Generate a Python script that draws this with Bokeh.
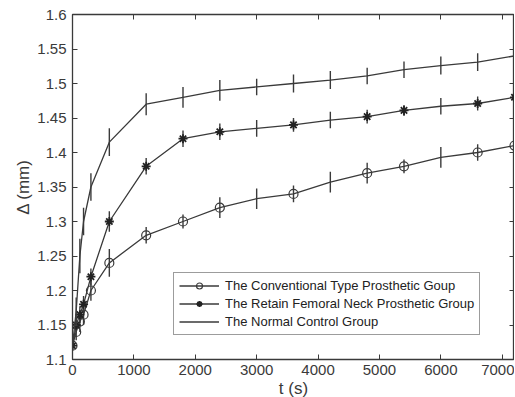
from bokeh.plotting import figure
from bokeh.models import (ColumnDataSource, Range1d, FixedTicker, LinearAxis,
                          CustomJSTickFormatter, Legend, LegendItem)
from bokeh.embed import file_html
from bokeh.resources import INLINE

# ---- data ----
t = [0, 60, 120, 180, 300, 600, 1200, 1800, 2400, 3000, 3600, 4200, 4800, 5400, 6000, 6600, 7200]
conventional = [1.12, 1.14, 1.155, 1.165, 1.20, 1.24, 1.28, 1.30, 1.32, 1.333, 1.34, 1.357, 1.37, 1.38, 1.393, 1.40, 1.41]
conventional_err = [0.005, 0.012, 0.015, 0.015, 0.015, 0.02, 0.012, 0.01, 0.015, 0.015, 0.012, 0.015, 0.015, 0.01, 0.015, 0.012, 0.01]
retain = [1.12, 1.15, 1.165, 1.18, 1.22, 1.30, 1.38, 1.42, 1.43, 1.435, 1.44, 1.447, 1.452, 1.461, 1.467, 1.471, 1.48]
retain_err = [0.005, 0.01, 0.012, 0.012, 0.012, 0.015, 0.012, 0.012, 0.012, 0.012, 0.01, 0.012, 0.01, 0.008, 0.012, 0.01, 0.01]
normal = [1.12, 1.17, 1.25, 1.30, 1.35, 1.415, 1.47, 1.48, 1.49, 1.495, 1.50, 1.505, 1.511, 1.52, 1.526, 1.531, 1.54]
normal_err = [0.005, 0.02, 0.025, 0.02, 0.02, 0.02, 0.016, 0.015, 0.015, 0.012, 0.013, 0.013, 0.012, 0.012, 0.013, 0.013, 0.012]
marker_shown = [1, 1, 1, 1, 1, 1, 1, 1, 1, 0, 1, 0, 1, 1, 0, 1, 1]
labels = ["The Conventional Type Prosthetic Goup",
          "The Retain Femoral Neck Prosthetic Group",
          "The Normal Control Group"]
y_ticks = [1.1, 1.15, 1.2, 1.25, 1.3, 1.35, 1.4, 1.45, 1.5, 1.55, 1.6]
x_ticks = [0, 1000, 2000, 3000, 4000, 5000, 6000, 7000]

FONT = "Liberation Sans"
INK = "#3a3a3a"

p = figure(frame_width=442, frame_height=345, output_backend="svg", toolbar_location=None,
           x_range=Range1d(0, 7200), y_range=Range1d(1.1, 1.6),
           min_border_left=72, min_border_right=0, min_border_top=14, min_border_bottom=10,
           x_axis_label="t (s)", y_axis_label="Δ (mm)")
p.background_fill_color = "white"
p.border_fill_color = "white"
p.grid.visible = False
p.outline_line_color = INK
p.outline_line_width = 1.3

for ax in (p.xaxis[0], p.yaxis[0]):
    ax.major_tick_in = 5
    ax.major_tick_out = 0
    ax.minor_tick_in = 0
    ax.minor_tick_out = 0
    ax.axis_line_color = INK
    ax.major_tick_line_color = INK
    ax.major_label_text_font = FONT
    ax.major_label_text_font_size = "15px"
    ax.major_label_text_color = INK
    ax.axis_label_text_font = FONT
    ax.axis_label_text_font_size = "17px"
    ax.axis_label_text_font_style = "normal"
    ax.axis_label_text_color = INK
p.xaxis[0].ticker = FixedTicker(ticks=x_ticks)
p.yaxis[0].ticker = FixedTicker(ticks=y_ticks)
p.yaxis[0].formatter = CustomJSTickFormatter(code="return String(Math.round(tick*100)/100);")
p.xaxis[0].major_label_standoff = 5
p.xaxis[0].axis_label_standoff = 1
p.yaxis[0].major_label_standoff = 6
p.yaxis[0].axis_label_standoff = 1

blank = CustomJSTickFormatter(code="return '';")
for loc in ("above", "right"):
    a = LinearAxis(ticker=FixedTicker(ticks=x_ticks if loc == "above" else y_ticks),
                   formatter=blank, major_tick_in=5, major_tick_out=0,
                   minor_tick_in=0, minor_tick_out=0, major_label_standoff=0,
                   major_label_text_font_size="1px",
                   axis_line_color=INK, major_tick_line_color=INK)
    p.add_layout(a, loc)

items = []
series = [(conventional, conventional_err, "circle"),
          (retain, retain_err, "asterisk"),
          (normal, normal_err, None)]
for (vals, errs, mk), lab in zip(series, labels):
    src = ColumnDataSource(dict(t=t, v=vals,
                                lo=[v - e for v, e in zip(vals, errs)],
                                hi=[v + e for v, e in zip(vals, errs)]))
    p.segment(x0="t", y0="lo", x1="t", y1="hi", source=src, line_color=INK, line_width=1.4)
    r_line = p.line("t", "v", source=src, line_color=INK, line_width=1.3)
    rs = [r_line]
    if mk is not None:
        msrc = ColumnDataSource(dict(
            t=[a for a, m in zip(t, marker_shown) if m],
            v=[b for b, m in zip(vals, marker_shown) if m]))
        if mk == "circle":
            r_m = p.scatter("t", "v", source=msrc, marker="circle", size=9,
                            fill_color="white", fill_alpha=0.0, line_color=INK, line_width=1.2)
        else:
            r_m = p.scatter("t", "v", source=msrc, marker="asterisk", size=9,
                            line_color="#222222", line_width=1.8)
        rs.append(r_m)
    items.append(LegendItem(label=lab, renderers=rs))

legend = Legend(items=items, location=(101, 24), label_text_font=FONT,
                label_text_font_size="13px", label_text_color="#222222",
                glyph_width=40, glyph_height=15, label_height=15, spacing=3,
                padding=5, margin=0, border_line_color=INK, border_line_width=1.3,
                background_fill_color="white", label_standoff=6)
p.add_layout(legend, "center")

open("out.html", "w").write(file_html(p, INLINE))
